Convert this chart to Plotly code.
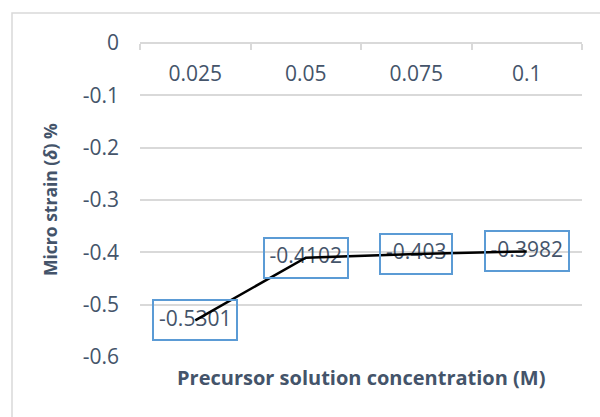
import plotly.graph_objects as go

# Precursor solution concentration (M) and measured micro strain (%)
concentrations = ["0.025", "0.05", "0.075", "0.1"]
micro_strain = [-0.5301, -0.4102, -0.403, -0.3982]

y_tick_values = [0, -0.1, -0.2, -0.3, -0.4, -0.5, -0.6]
y_tick_labels = ["0", "-0.1", "-0.2", "-0.3", "-0.4", "-0.5", "-0.6"]

TEXT = "#44546a"
GRID = "#d9d9d9"
BOX = "#5b9bd5"
FONT = "Open Sans"

W, H = 600, 417
M_L, M_R, M_T, M_B = 140, 18, 43, 60
plot_w = W - M_L - M_R
plot_h = H - M_T - M_B

labels = [str(v) for v in micro_strain]

fig = go.Figure()

# value labels first, so the line is drawn over them
fig.add_trace(go.Scatter(
    x=concentrations, y=micro_strain, mode="text", text=labels,
    textposition="middle center",
    textfont=dict(family=FONT, size=21, color=TEXT),
    hoverinfo="skip", showlegend=False,
))

fig.add_trace(go.Scatter(
    x=concentrations, y=micro_strain, mode="lines",
    line=dict(color="black", width=2.5),
    showlegend=False,
))

annotations = []
# bordered boxes around each value label (category index positions)
for i, (v, t) in enumerate(zip(micro_strain, labels)):
    annotations.append(dict(
        x=i, y=v, xref="x", yref="y", text=t, showarrow=False,
        font=dict(family=FONT, size=21, color="rgba(0,0,0,0)"),
        bordercolor=BOX, borderwidth=2, borderpad=5,
        xanchor="center", yanchor="middle",
    ))

annotations.append(dict(
    x=0.5, y=0, xref="paper", yref="paper", yshift=-20,
    text="<b>Precursor solution concentration (M)</b>", showarrow=False,
    font=dict(family=FONT, size=20, color=TEXT),
    xanchor="center", yanchor="middle",
))
annotations.append(dict(
    x=0, y=0.5, xref="paper", yref="paper", xshift=-(M_L - 50),
    text="<b>Micro strain (<i>δ</i>) %</b>", showarrow=False, textangle=-90,
    font=dict(family=FONT, size=17.5, color=TEXT),
    xanchor="center", yanchor="middle",
))

fig.update_layout(
    width=W, height=H,
    margin=dict(l=M_L, r=M_R, t=M_T, b=M_B),
    paper_bgcolor="white", plot_bgcolor="white",
    font=dict(family=FONT, color=TEXT),
    annotations=annotations,
    shapes=[dict(
        type="rect", xref="paper", yref="paper", layer="below",
        x0=(12 - M_L) / plot_w, x1=1 + (M_R + 20) / plot_w,
        y0=-(M_B + 20) / plot_h, y1=1 + (M_T - 13) / plot_h,
        line=dict(color=GRID, width=1.5), fillcolor="rgba(0,0,0,0)",
    )],
    # category axis sits on the zero line at the top, labels hang below it
    xaxis=dict(
        type="category", side="bottom", anchor="free", position=1,
        range=[-0.5, 3.5],
        showline=True, linecolor=GRID, linewidth=1.5,
        ticks="outside", tickson="boundaries", ticklen=6, tickcolor=GRID, tickwidth=1.5,
        ticklabelstandoff=12,
        tickfont=dict(family=FONT, size=21, color=TEXT),
        showgrid=False, zeroline=False, fixedrange=True,
    ),
    yaxis=dict(
        range=[-0.6, 0], tickvals=y_tick_values, ticktext=y_tick_labels,
        showgrid=True, gridcolor=GRID, gridwidth=1.5,
        zeroline=False, showline=False, ticks="",
        ticklabelstandoff=20,
        tickfont=dict(family=FONT, size=21, color=TEXT),
        fixedrange=True,
    ),
)

fig.write_html("out.html")
